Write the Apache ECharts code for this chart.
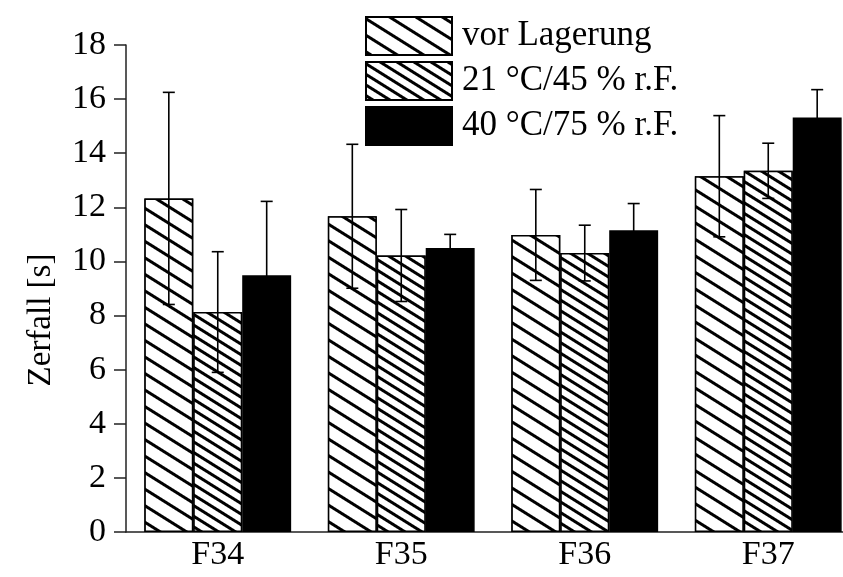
<!DOCTYPE html>
<html>
<head>
<meta charset="utf-8">
<script src="https://cdn.jsdelivr.net/npm/echarts@6/dist/echarts.min.js"></script>
<style>
html,body{margin:0;padding:0;background:#fff;}
#chart{width:843px;height:577px;}
</style>
</head>
<body>
<div id="chart"></div>
<script>
var categories = ['F34', 'F35', 'F36', 'F37'];
var seriesNames = ['vor Lagerung', '21 °C/45 % r.F.', '40 °C/75 % r.F.'];
var vorLagerung = [12.33, 11.67, 10.98, 13.15];
var vorLagerungErr = [3.92, 2.66, 1.68, 2.24];
var klima21 = [8.13, 10.22, 10.31, 13.35];
var klima21Err = [2.23, 1.70, 1.03, 1.02];
var klima40 = [9.49, 10.50, 11.15, 15.32];
var klima40Err = [2.73, 0.50, 0.99, 1.03];
var yTicks = [0, 2, 4, 6, 8, 10, 12, 14, 16, 18];

var FONT = '"Liberation Serif", "Times New Roman", serif';

function hatch(gap) {
  return {
    symbol: 'rect',
    symbolSize: 1,
    dashArrayX: [1, 0],
    dashArrayY: [2.2, gap],
    rotation: 0.56,
    color: '#000',
    backgroundColor: '#fff'
  };
}

function errSeries(values, errs, idx) {
  return {
    type: 'custom',
    z: 10,
    silent: true,
    data: values.map(function (v, i) { return [i, v, errs[i]]; }),
    renderItem: function (params, api) {
      var cat = api.value(0), mean = api.value(1), e = api.value(2);
      var band = api.size([1, 0])[0];
      var barW = band * 0.8 / 3;
      var cx = api.coord([cat, mean])[0] + (idx - 1) * barW;
      var yTop = api.coord([cat, mean + e])[1];
      var yBot = api.coord([cat, mean - e])[1];
      var cap = 6;
      var st = { stroke: '#000', lineWidth: 1.6 };
      return {
        type: 'group',
        children: [
          { type: 'line', shape: { x1: cx, y1: yTop, x2: cx, y2: yBot }, style: st },
          { type: 'line', shape: { x1: cx - cap, y1: yTop, x2: cx + cap, y2: yTop }, style: st },
          { type: 'line', shape: { x1: cx - cap, y1: yBot, x2: cx + cap, y2: yBot }, style: st }
        ]
      };
    }
  };
}

var chart = echarts.init(document.getElementById('chart'), null, { renderer: 'canvas' });
chart.setOption({
  animation: false,
  backgroundColor: '#fff',
  textStyle: { fontFamily: FONT, color: '#000' },
  legend: {
    data: seriesNames,
    orient: 'vertical',
    left: 360,
    top: 11,
    itemWidth: 86,
    itemHeight: 38,
    itemGap: 5,
    icon: 'rect',
    textStyle: { fontFamily: FONT, fontSize: 35, color: '#000', padding: [0, 0, 0, 5] }
  },
  grid: { left: 126, right: -17, top: 45, bottom: 45, containLabel: false, outerBoundsMode: 'none' },
  xAxis: {
    type: 'category',
    data: categories,
    axisLine: { lineStyle: { color: '#222', width: 1.5 } },
    axisTick: { show: false },
    axisLabel: { fontFamily: FONT, fontSize: 34, color: '#000', margin: 6 }
  },
  yAxis: {
    type: 'value',
    min: 0,
    max: 18,
    interval: 2,
    name: 'Zerfall [s]',
    nameLocation: 'middle',
    nameGap: 68,
    nameTextStyle: { fontFamily: FONT, fontSize: 33, color: '#000', padding: [0, 63, 0, 0] },
    axisLine: { show: true, lineStyle: { color: '#222', width: 1.5 } },
    axisTick: { show: true, inside: false, length: 12, lineStyle: { color: '#222', width: 1.5 } },
    splitLine: { show: false },
    axisLabel: {
      fontFamily: FONT, fontSize: 34, color: '#000', margin: 20,
      formatter: function (v) { return yTicks.indexOf(v) >= 0 ? String(v) : ''; }
    }
  },
  series: [
    {
      name: seriesNames[0], type: 'bar', data: vorLagerung,
      barGap: '0%', barCategoryGap: '20%',
      itemStyle: { color: '#fff', borderColor: '#000', borderWidth: 1.5, decal: hatch(10.5) }
    },
    {
      name: seriesNames[1], type: 'bar', data: klima21,
      barGap: '0%', barCategoryGap: '20%',
      itemStyle: { color: '#fff', borderColor: '#000', borderWidth: 1.5, decal: hatch(5.4) }
    },
    {
      name: seriesNames[2], type: 'bar', data: klima40,
      barGap: '0%', barCategoryGap: '20%',
      itemStyle: { color: '#000', borderColor: '#000', borderWidth: 1.5 }
    },
    errSeries(vorLagerung, vorLagerungErr, 0),
    errSeries(klima21, klima21Err, 1),
    errSeries(klima40, klima40Err, 2)
  ]
});
</script>
</body>
</html>
